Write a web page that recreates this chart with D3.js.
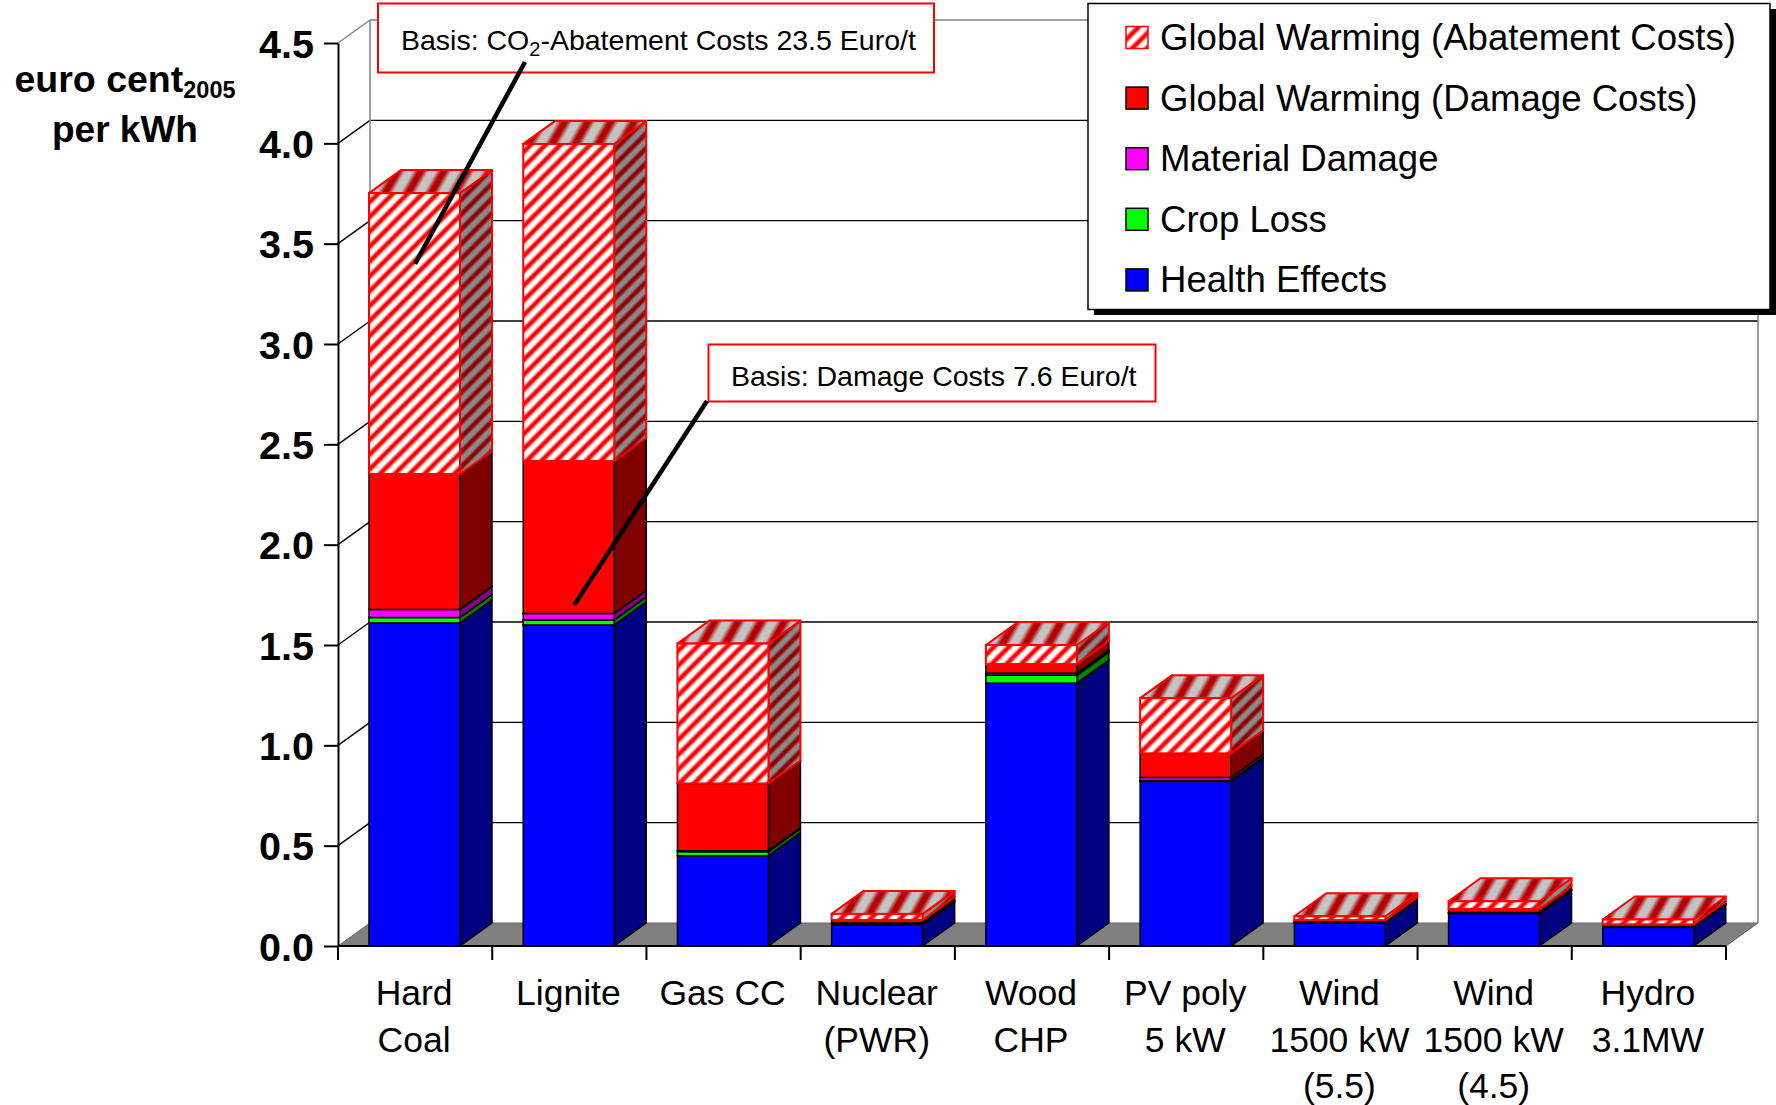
<!DOCTYPE html>
<html>
<head>
<meta charset="utf-8">
<script src="https://cdn.jsdelivr.net/npm/d3@7"></script>
<style>
  html, body { margin: 0; padding: 0; background: #fff; }
  svg { display: block; }
  text { font-family: "Liberation Sans", Arial, sans-serif; fill: #000; }
</style>
</head>
<body>
<svg id="chart" width="1776" height="1105"></svg>
<script>
// External costs of electricity generation, euro cent (2005) per kWh
const categories = ["Hard Coal", "Lignite", "Gas CC", "Nuclear (PWR)", "Wood CHP",
                    "PV poly 5 kW", "Wind 1500 kW (5.5)", "Wind 1500 kW (4.5)", "Hydro 3.1MW"];
const categoryLines = [["Hard", "Coal"], ["Lignite"], ["Gas CC"], ["Nuclear", "(PWR)"], ["Wood", "CHP"],
                       ["PV poly", "5 kW"], ["Wind", "1500 kW", "(5.5)"], ["Wind", "1500 kW", "(4.5)"], ["Hydro", "3.1MW"]];

// stacked components, bottom to top
const healthEffects  = [1.61, 1.60, 0.45, 0.105, 1.31, 0.82, 0.115, 0.162, 0.093];
const cropLoss       = [0.027, 0.025, 0.02, 0.005, 0.04, 0.005, 0.003, 0.003, 0.002];
const materialDamage = [0.04, 0.032, 0.005, 0.005, 0.01, 0.015, 0.002, 0.002, 0.002];
const gwDamageCosts  = [0.675, 0.76, 0.335, 0.015, 0.045, 0.12, 0.009, 0.018, 0.011];
// additional cost when CO2 is valued at abatement cost instead of damage cost
const gwAbatementExtra = [1.40, 1.58, 0.697, 0.03, 0.095, 0.275, 0.019, 0.038, 0.024];

const yTicks = [0, 0.5, 1.0, 1.5, 2.0, 2.5, 3.0, 3.5, 4.0, 4.5];

const seriesKeys = ["health", "crop", "material", "gwDamage", "gwAbatement"];
const seriesLabels = {
  gwAbatement: "Global Warming (Abatement Costs)",
  gwDamage: "Global Warming (Damage Costs)",
  material: "Material Damage",
  crop: "Crop Loss",
  health: "Health Effects"
};
const legendOrder = ["gwAbatement", "gwDamage", "material", "crop", "health"];

const rows = categories.map((c, i) => ({
  category: c,
  health: healthEffects[i],
  crop: cropLoss[i],
  material: materialDamage[i],
  gwDamage: gwDamageCosts[i],
  gwAbatement: gwAbatementExtra[i]
}));

const svg = d3.select("#chart");
const defs = svg.append("defs");

// soft-edged diagonal hatch patterns
function hatch(id, bg, fg, spacing, angle) {
  const gid = id + "-grad";
  const g = defs.append("linearGradient").attr("id", gid)
    .attr("x1", 0).attr("x2", 1).attr("y1", 0).attr("y2", 0);
  [[0, bg], [0.16, bg], [0.4, fg], [0.6, fg], [0.84, bg], [1, bg]]
    .forEach(([o, c]) => g.append("stop").attr("offset", o).attr("stop-color", c));
  const p = defs.append("pattern").attr("id", id)
    .attr("patternUnits", "userSpaceOnUse")
    .attr("width", spacing).attr("height", spacing)
    .attr("patternTransform", `rotate(${angle})`);
  p.append("rect").attr("width", spacing).attr("height", spacing).attr("fill", `url(#${gid})`);
}
hatch("hatchFront", "#ffffff", "#ff0000", 10.5, 45);
hatch("hatchSide", "#8a8a8a", "#900000", 10.5, 45);
hatch("hatchTop", "#c4c4c4", "#b40000", 20, 30);

const style = {
  health:      { front: "#0000ff", side: "#000080", top: "#0000ff", stroke: "#000", sw: 1.5 },
  crop:        { front: "#00ff00", side: "#008000", top: "#00ff00", stroke: "#000", sw: 1.5 },
  material:    { front: "#ff00ff", side: "#800080", top: "#ff00ff", stroke: "#000", sw: 1.5 },
  gwDamage:    { front: "#ff0000", side: "#800000", top: "#ff0000", stroke: "#000", sw: 1.5 },
  gwAbatement: { front: "url(#hatchFront)", side: "url(#hatchSide)", top: "url(#hatchTop)", stroke: "#ff0000", sw: 2 }
};

// scales
const x = d3.scaleBand().domain(categories).range([338, 1726]).paddingInner(0).paddingOuter(0);
const y = d3.scaleLinear().domain([0, 4.5]).range([946, 43]);
const bw = x.bandwidth();
const DX = 32, DY = 23;              // depth offset of the 3-D box
const barOffset = 31, barWidth = 91; // front face within each band

const left = x.range()[0], right = x.range()[1];
const yTop = y(4.5), yBase = y(0);

// walls
const walls = svg.append("g");
walls.append("rect")
  .attr("x", left + DX).attr("y", yTop - DY)
  .attr("width", right - left).attr("height", yBase - yTop)
  .attr("fill", "#fff");

// gridlines: on the side wall (diagonal) and back wall
yTicks.filter(v => v > 0).forEach(v => {
  const col = v === 4.5 ? "#808080" : "#000";
  walls.append("line")
    .attr("x1", left).attr("y1", y(v)).attr("x2", left + DX).attr("y2", y(v) - DY)
    .attr("stroke", col).attr("stroke-width", 1.4);
  walls.append("line")
    .attr("x1", left + DX).attr("y1", y(v) - DY).attr("x2", right + DX).attr("y2", y(v) - DY)
    .attr("stroke", col).attr("stroke-width", 1.4);
});
// wall edges
walls.append("line").attr("x1", left + DX).attr("x2", left + DX)
  .attr("y1", yTop - DY).attr("y2", yBase - DY).attr("stroke", "#808080").attr("stroke-width", 1.5);
walls.append("line").attr("x1", right + DX).attr("x2", right + DX)
  .attr("y1", yTop - DY).attr("y2", yBase - DY).attr("stroke", "#808080").attr("stroke-width", 1.5);

// floor
walls.append("polygon")
  .attr("points", [[left, yBase], [left + DX, yBase - DY], [right + DX, yBase - DY], [right, yBase]].join(" "))
  .attr("fill", "#808080").attr("stroke", "#666").attr("stroke-width", 1);

// y axis
const yAxis = svg.append("g").attr("transform", `translate(${left},0)`)
  .call(d3.axisLeft(y).tickValues(yTicks).tickFormat(d3.format(".1f"))
    .tickSize(14).tickSizeOuter(0).tickPadding(10));
yAxis.select(".domain").attr("stroke", "#000").attr("stroke-width", 2);
yAxis.selectAll(".tick line").attr("stroke", "#000").attr("stroke-width", 2);
yAxis.selectAll(".tick text")
  .style("font-family", '"Liberation Sans", Arial, sans-serif')
  .style("font-size", "39.5px").style("font-weight", "bold").attr("fill", "#000").attr("dy", "0.36em");

// y axis title
const title = svg.append("text").attr("x", 125).attr("y", 92)
  .attr("text-anchor", "middle").style("font-size", "37.5px").style("font-weight", "bold");
title.append("tspan").text("euro cent");
title.append("tspan").attr("dy", 6).style("font-size", "23.5px").text("2005");
svg.append("text").attr("x", 125).attr("y", 142)
  .attr("text-anchor", "middle").style("font-size", "37px").style("font-weight", "bold")
  .text("per kWh");

// stacked 3-D bars
const stack = d3.stack().keys(seriesKeys)(rows);
const bars = svg.append("g");
categories.forEach((c, i) => {
  const x0 = x(c) + barOffset, x1 = x0 + barWidth;
  const g = bars.append("g");
  stack.forEach(layer => {
    const [v0, v1] = layer[i];
    if (v1 - v0 <= 0) return;
    const s = style[layer.key];
    const yb = y(v0), yt = y(v1);
    g.append("polygon")
      .attr("points", [[x1, yb], [x1 + DX, yb - DY], [x1 + DX, yt - DY], [x1, yt]].join(" "))
      .attr("fill", s.side).attr("stroke", s.stroke).attr("stroke-width", s.sw).attr("stroke-linejoin", "round");
    g.append("polygon")
      .attr("points", [[x0, yt], [x0 + DX, yt - DY], [x1 + DX, yt - DY], [x1, yt]].join(" "))
      .attr("fill", s.top).attr("stroke", s.stroke).attr("stroke-width", s.sw).attr("stroke-linejoin", "round");
    g.append("rect")
      .attr("x", x0).attr("y", yt).attr("width", barWidth).attr("height", yb - yt)
      .attr("fill", s.front).attr("stroke", s.stroke).attr("stroke-width", s.sw);
  });
});

// x axis baseline, ticks and labels
const xAxis = svg.append("g");
xAxis.append("line").attr("x1", left).attr("x2", right).attr("y1", yBase).attr("y2", yBase)
  .attr("stroke", "#000").attr("stroke-width", 2);
categories.concat([null]).forEach(c => {
  const xt = c === null ? right : x(c);
  xAxis.append("line").attr("x1", xt).attr("x2", xt).attr("y1", yBase).attr("y2", yBase + 14)
    .attr("stroke", "#000").attr("stroke-width", 2);
});
categories.forEach((c, i) => {
  const t = xAxis.append("text").attr("text-anchor", "middle").style("font-size", "35.5px");
  categoryLines[i].forEach((line, k) => {
    t.append("tspan").attr("x", x(c) + bw / 2 - 1).attr("y", 1005 + k * 46.5).text(line);
  });
});

// annotation callouts
const notes = svg.append("g");
notes.append("rect").attr("x", 378).attr("y", 3.5).attr("width", 556).attr("height", 69)
  .attr("fill", "#fff").attr("stroke", "#ff0000").attr("stroke-width", 2);
const n1 = notes.append("text").attr("x", 401).attr("y", 50).style("font-size", "28.5px");
n1.append("tspan").text("Basis: CO");
n1.append("tspan").attr("dy", 6).style("font-size", "20px").text("2");
n1.append("tspan").attr("dy", -6).text("-Abatement Costs 23.5 Euro/t");

notes.append("rect").attr("x", 708.5).attr("y", 344.5).attr("width", 447).attr("height", 57)
  .attr("fill", "#fff").attr("stroke", "#ff0000").attr("stroke-width", 2);
notes.append("text").attr("x", 731).attr("y", 386).style("font-size", "28.5px")
  .text("Basis: Damage Costs 7.6 Euro/t");

notes.append("line")
  .attr("x1", 525).attr("y1", 62)
  .attr("x2", x("Hard Coal") + bw / 2).attr("y2", y(3.4))
  .attr("stroke", "#000").attr("stroke-width", 4.5);
notes.append("line")
  .attr("x1", 707).attr("y1", 401)
  .attr("x2", x("Lignite") + bw / 2 + 5).attr("y2", y(1.7))
  .attr("stroke", "#000").attr("stroke-width", 4.5);

// legend
const legend = svg.append("g");
legend.append("rect").attr("x", 1094).attr("y", 9).attr("width", 682).attr("height", 306).attr("fill", "#000");
legend.append("rect").attr("x", 1088).attr("y", 3.5).attr("width", 682).attr("height", 306)
  .attr("fill", "#fff").attr("stroke", "#000").attr("stroke-width", 1.5);
legendOrder.forEach((k, i) => {
  const cy = 37.5 + i * 60.6;
  const s = style[k];
  legend.append("rect").attr("x", 1126).attr("y", cy - 11).attr("width", 22).attr("height", 22)
    .attr("fill", s.front).attr("stroke", k === "gwAbatement" ? "#ff0000" : "#000").attr("stroke-width", 1.5);
  legend.append("text").attr("x", 1160).attr("y", cy + 12.5).style("font-size", "36.6px").text(seriesLabels[k]);
});
</script>
</body>
</html>
